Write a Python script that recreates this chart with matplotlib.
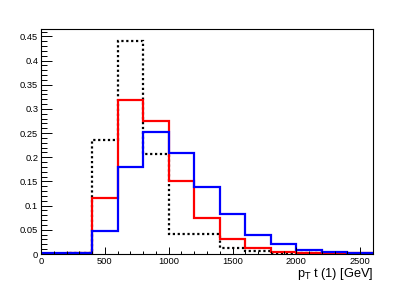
import numpy as np
import matplotlib.pyplot as plt
from matplotlib.ticker import MultipleLocator

# bin edges in GeV
edges = np.arange(0, 2800, 200)

# normalised histograms
black_vals = [0.0, 0.003, 0.235, 0.441, 0.206, 0.042, 0.042, 0.012, 0.006, 0.002, 0.002, 0.001, 0.001]
red_vals = [0.0, 0.003, 0.115, 0.318, 0.276, 0.150, 0.075, 0.030, 0.013, 0.004, 0.003, 0.002, 0.002]
blue_vals = [0.002, 0.002, 0.048, 0.180, 0.253, 0.209, 0.138, 0.082, 0.039, 0.020, 0.008, 0.004, 0.003]

x_labels = ['0', '500', '1000', '1500', '2000', '2500']
y_labels = ['0', '0.05', '0.1', '0.15', '0.2', '0.25', '0.3', '0.35', '0.4', '0.45']

plt.rcParams['font.family'] = ['Liberation Sans', 'DejaVu Sans']

fig = plt.figure(figsize=(4.15, 2.83), dpi=100)
ax = fig.add_axes([41 / 415, 1 - 254 / 283, 332 / 415, 225 / 283])

ax.stairs(black_vals, edges, color='black', linewidth=1.6, linestyle=(0, (1, 1.2)), baseline=None)
ax.stairs(red_vals, edges, color='#ff0000', linewidth=1.6, baseline=None)
ax.stairs(blue_vals, edges, color='#0000ff', linewidth=1.6, baseline=None)

ax.set_xlim(0, 2600)
ax.set_ylim(0, 0.4655)

ax.xaxis.set_minor_locator(MultipleLocator(100))
ax.yaxis.set_minor_locator(MultipleLocator(0.01))
ax.set_xticks([0, 500, 1000, 1500, 2000, 2500])
ax.set_xticklabels(x_labels)
ax.set_yticks(np.arange(0, 0.46, 0.05))
ax.set_yticklabels(y_labels)

ax.tick_params(which='both', direction='in', labelsize=6.7, width=0.7)
ax.tick_params(axis='x', which='major', length=5, pad=1.8)
ax.tick_params(axis='x', which='minor', length=2.5)
ax.tick_params(axis='y', which='major', length=8, pad=2)
ax.tick_params(axis='y', which='minor', length=4)
for side in ax.spines.values():
    side.set_linewidth(0.8)

fig.text(373 / 415, 1 - 265.5 / 283, r'p$_{\rm T}$ t (1) [GeV]', ha='right', va='top', fontsize=9.2)

fig.savefig('out.png', dpi=100)
